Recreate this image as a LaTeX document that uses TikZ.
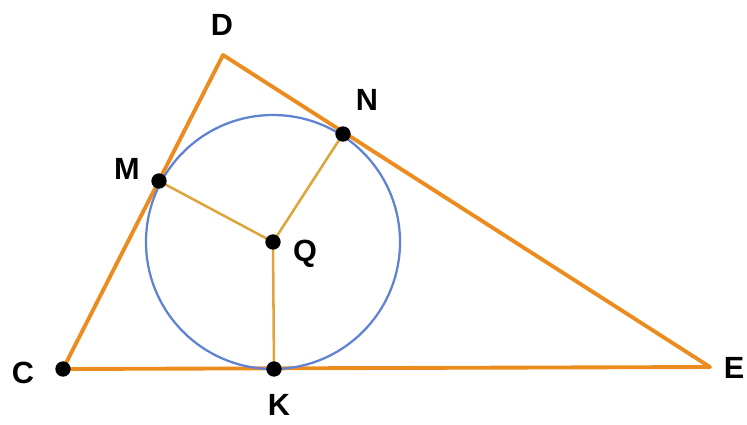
\documentclass[tikz,border=0pt]{standalone}
\usepackage{fontspec}
\setsansfont{Liberation Sans}
\usetikzlibrary{positioning}
\definecolor{triorange}{RGB}{236,140,30}
\definecolor{circblue}{RGB}{95,130,210}
\definecolor{radorange}{RGB}{222,165,60}

\begin{document}
\begin{tikzpicture}[x=0.75pt,y=-0.75pt,
  dot/.style={circle,fill=black,inner sep=0pt,minimum size=11.5pt},
  lbl/.style={font=\sffamily\bfseries\fontsize{23}{23}\selectfont,inner sep=0pt}]
\useasboundingbox (0,0) rectangle (747,425);
\coordinate (C) at (63,369);
\coordinate (D) at (223,55);
\coordinate (E) at (710,367);
\coordinate (K) at (274,369);
\coordinate (M) at (159,181);
\coordinate (N) at (343,134);
\coordinate (Q) at (273,242);
\draw[triorange,line width=2.9pt,line join=round] (C) -- (D) -- (E) -- cycle;
\draw[circblue,line width=1.7pt] (Q) circle (127);
\draw[radorange,line width=1.9pt] (M) -- (Q) -- (N) (Q) -- (K);
\node[dot] (dC) at (C) {};
\node[dot] (dK) at (K) {};
\node[dot] (dM) at (M) {};
\node[dot] (dN) at (N) {};
\node[dot] (dQ) at (Q) {};
\node[lbl] (lC) at (23,373) {C};
\node[lbl] (lD) at (222,25) {D};
\node[lbl] (lE) at (734,368) {E};
\node[lbl] (lK) at (279,405) {K};
\node[lbl] (lM) at (127,169) {M};
\node[lbl] (lN) at (367,100) {N};
\node[lbl] (lQ) at (305,254) {Q};
\end{tikzpicture}
\end{document}
